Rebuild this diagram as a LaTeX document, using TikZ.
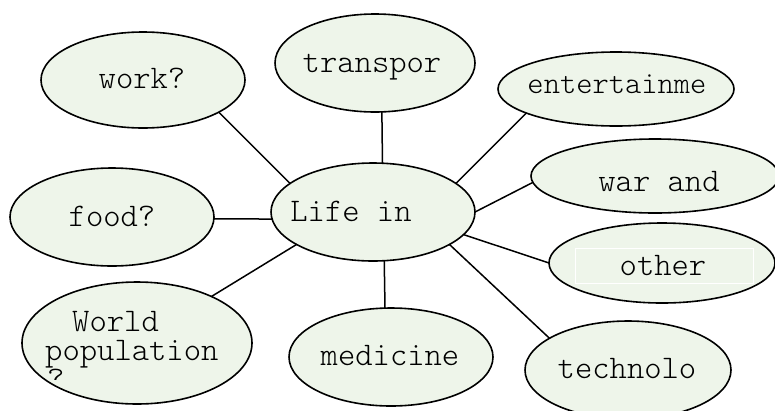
\documentclass[tikz,border=0pt]{standalone}
\usetikzlibrary{shapes.geometric}
\definecolor{bubblefill}{HTML}{EEF5EA}
\tikzset{
  bubble/.style={ellipse, draw=black, fill=bubblefill, line width=1.6pt, inner sep=0pt, outer sep=0pt},
  lbl/.style={font=\ttfamily\fontseries{l}\fontsize{33}{29}\selectfont, inner sep=0pt, anchor=base},
  link/.style={line width=1.5pt, black}
}
\begin{document}
\begin{tikzpicture}[x=1pt,y=-1pt]
\useasboundingbox (0,0) rectangle (775,410);
\clip (0,0) rectangle (775,410);
% ellipses
\node[bubble, minimum width=204pt, minimum height=98pt] (life) at (373,212) {};
\node[bubble, minimum width=204pt, minimum height=96pt] (work) at (143,80) {};
\node[bubble, minimum width=200pt, minimum height=98pt] (trans) at (375,63) {};
\node[bubble, minimum width=236pt, minimum height=74pt] (ent) at (616,89) {};
\node[bubble, minimum width=248pt, minimum height=74pt] (war) at (655,176) {};
\node[bubble, minimum width=226pt, minimum height=80pt] (other) at (662,263) {};
\node[bubble, minimum width=206pt, minimum height=98pt] (tech) at (628,370) {};
\node[bubble, minimum width=204pt, minimum height=98pt] (med) at (391,357) {};
\node[bubble, minimum width=204pt, minimum height=98pt] (food) at (112,217) {};
\node[bubble, minimum width=230pt, minimum height=122pt] (pop) at (137,343) {};
% white frame inside "other"
\node[draw=white, line width=1pt, minimum width=178pt, minimum height=35pt, inner sep=0pt] (otherframe) at (664,265.5) {};
% connectors
\draw[link] (work.-23.6) -- (life.161.1);
\draw[link] (trans.-82) -- (life.79);
\draw[link] (ent.195.4) -- (life.19);
\draw[link] (war.183.3) -- (life.0);
\draw[link] (other.180) -- (life.-14.3);
\draw[link] (tech.158) -- (life.-23.8);
\draw[link] (med.97.8) -- (life.-77.6);
\draw[link] (food.-1) -- (life.184);
\draw[link] (pop.32.7) -- (life.203.2);
% texts
\node[lbl] (tlife) at (351,221) {Life in};
\node[lbl] (twork) at (142,88) {work?};
\node[lbl] (ttrans) at (372,72) {transpor};
\node[lbl, font=\ttfamily\fontseries{l}\fontsize{31}{29}\selectfont] (tent) at (617,93) {entertainme};
\node[lbl] (twar) at (659,191) {war and};
\node[lbl] (tother) at (663,275) {other};
\node[lbl] (ttech) at (627,378) {technolo};
\node[lbl] (tmed) at (390,365) {medicine};
\node[lbl] (tfood) at (112,226) {food?};
\node[lbl, anchor=base west, text height=18pt, text depth=0pt] (tpop1) at (72,331) {World};
\node[lbl, anchor=base west, text height=18pt, text depth=0pt] (tpop2) at (45,360) {population};
\begin{scope}
\clip (0,0) rectangle (775,379);
\node[lbl, anchor=base west, text height=8pt, text depth=0pt] (tpop3) at (47,389) {?};
\end{scope}
\end{tikzpicture}
\end{document}
